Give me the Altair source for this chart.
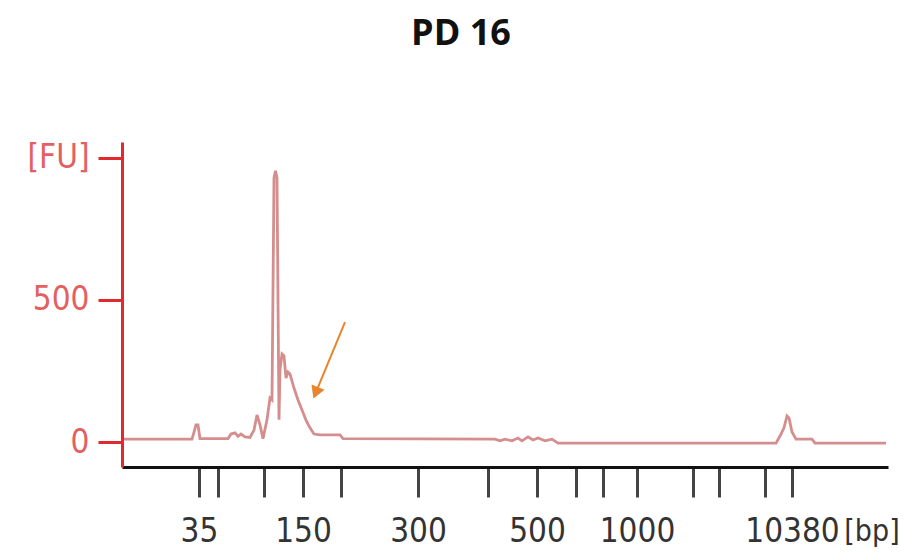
import altair as alt
import pandas as pd

# Electropherogram trace: migration time (s) and fluorescence (FU)
time_s = [20.2, 27.0, 27.2, 27.4, 27.6, 27.8, 30.6, 30.9, 31.3, 31.6, 31.9, 32.3, 32.8,
          33.2, 33.5, 33.8, 34.1, 34.5, 34.8, 35.0, 35.2, 35.35, 35.5, 35.7, 35.8, 36.0, 36.2,
          36.4, 36.6, 36.8, 37.2, 37.6, 38.0, 38.4, 38.8, 39.2, 39.8, 41.8, 42.1,
          57.3, 57.8, 58.3, 59.0, 59.6, 60.0, 60.6, 61.1, 61.6, 62.3, 63.0, 63.6,
          85.4, 85.8, 86.2, 86.5, 86.7, 87.0, 87.4, 89.0, 89.3, 96.4]
fu = [10, 10, 35, 60, 60, 12, 12, 28, 32, 20, 28, 18, 16,
      42, 95, 60, 12, 78, 155, 148, 930, 955, 930, 78, 253, 310, 303,
      225, 246, 239, 190, 148, 113, 77, 50, 28, 25, 25, 12,
      10, 4, 10, 4, 14, 4, 18, 7, 14, 4, 10, -4,
      -4, 21, 50, 92, 85, 35, 10, 10, -4, -4]

# Ladder (bp) positions on the time axis
ladder_time = [27.7, 29.6, 34.2, 38.1, 41.9, 49.6, 56.6, 61.5, 65.4, 68.1, 71.5, 77.1, 79.7, 84.3, 87.0]
ladder_label = ["35", "", "", "150", "", "300", "", "500", "", "", "1000", "", "", "", "10380"]

y_ticks = [0, 500, 1000]
y_tick_labels = ["0", "500", "[FU]"]

# Arrow (start -> tip)
arrow_start = (42.3, 422)
arrow_tip = (39.45, 180)

title_text = "PD 16"
x_unit = "[bp]"

LABEL_FONT = "DejaVu Sans Condensed, DejaVu Sans"

trace = pd.DataFrame({"t": time_s, "fu": fu})

xlabels_js = "[" + ",".join("'" + s + "'" for s in ladder_label) + "]"
xvals_js = "[" + ",".join(str(v) for v in ladder_time) + "]"
x_label_expr = f"{xlabels_js}[indexof({xvals_js}, datum.value)]"
ylabels_js = "[" + ",".join("'" + s + "'" for s in y_tick_labels) + "]"
yvals_js = "[" + ",".join(str(v) for v in y_ticks) + "]"
y_label_expr = f"{ylabels_js}[indexof({yvals_js}, datum.value)]"

x_scale = alt.Scale(domain=[20, 96.6], nice=False, zero=False)
y_scale = alt.Scale(domain=[-88, 1056], nice=False, zero=False)

line = alt.Chart(trace).mark_line(color="#d58e8d", strokeWidth=2.8, clip=False).encode(
    x=alt.X("t:Q", scale=x_scale, title=None,
            axis=alt.Axis(values=ladder_time, labelExpr=x_label_expr, grid=False,
                          domainColor="#111111", domainWidth=3,
                          tickColor="#444444", tickWidth=3, tickSize=30,
                          labelFont=LABEL_FONT, labelFontSize=33, labelColor="#333333",
                          labelPadding=18, labelOverlap=False, labelFlush=False)),
    y=alt.Y("fu:Q", scale=y_scale, title=None,
            axis=alt.Axis(values=y_ticks, labelExpr=y_label_expr, grid=False,
                          domainColor="#e02a2e", domainWidth=3,
                          tickColor="#e02a2e", tickWidth=3, tickSize=24,
                          labelFont=LABEL_FONT, labelFontSize=33, labelColor="#e46060",
                          labelPadding=9)),
)

arrow_df = pd.DataFrame({"t": [arrow_start[0]], "fu": [arrow_start[1]],
                         "t2": [arrow_tip[0]], "fu2": [arrow_tip[1]]})
arrow_line = alt.Chart(arrow_df).mark_rule(color="#e8852c", strokeWidth=2).encode(
    x=alt.X("t:Q", scale=x_scale), y=alt.Y("fu:Q", scale=y_scale),
    x2="t2:Q", y2="fu2:Q")
arrow_head = alt.Chart(arrow_df).mark_point(shape="triangle", filled=True, color="#e8852c",
                                            size=200, angle=202, opacity=1).encode(
    x=alt.X("t2:Q", scale=x_scale), y=alt.Y("fu2:Q", scale=y_scale))

bp_df = pd.DataFrame({"t": [95.0], "txt": [x_unit]})
bp_text = alt.Chart(bp_df).mark_text(font=LABEL_FONT, fontSize=30, color="#333333",
                                     baseline="middle", align="center").encode(
    x=alt.X("t:Q", scale=x_scale), y=alt.value(390), text="txt:N")

title_df = pd.DataFrame({"txt": [title_text]})
title_mark = alt.Chart(title_df).mark_text(font="Open Sans", fontWeight="bold", fontSize=36,
                                           color="#111111", baseline="middle", align="center").encode(
    x=alt.value(339), y=alt.value(-108), text="txt:N")

chart = alt.layer(line, arrow_line, arrow_head, bp_text, title_mark).properties(
    width=766, height=325,
    autosize=alt.AutoSizeParams(type="none"),
    padding={"left": 122, "top": 142, "right": 33, "bottom": 89},
    background="white",
).configure_view(stroke="transparent")

chart.save("out.html", embed_options={"renderer": "svg", "actions": False})
